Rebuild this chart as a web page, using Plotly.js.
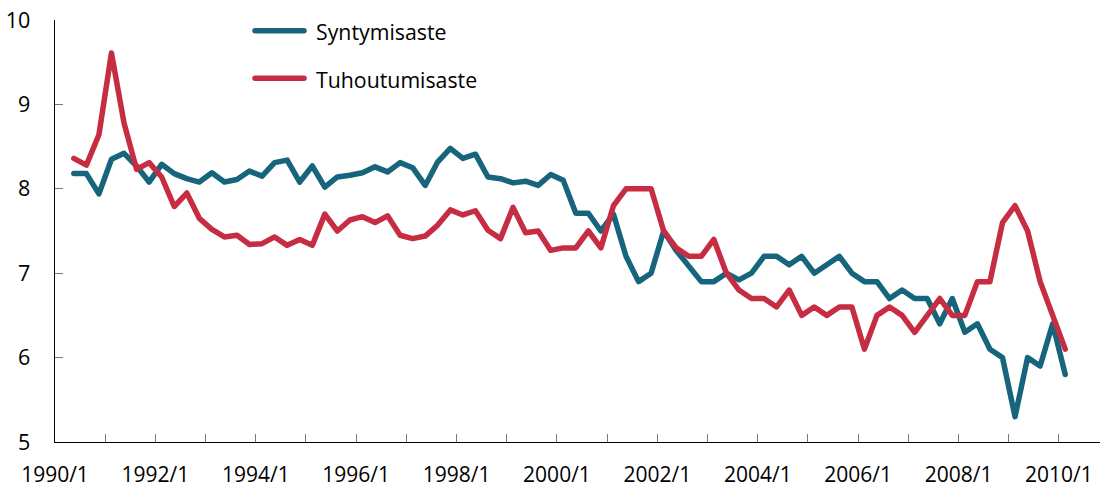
<!DOCTYPE html>
<html><head><meta charset="utf-8">
<script src="https://cdn.plot.ly/plotly-3.0.1.min.js"></script>
<style>
html,body{margin:0;padding:0;background:#fff;}
#chart{width:1100px;height:489px;}
.js-line{stroke-linejoin:round !important;stroke-linecap:round !important;}
.shapelayer path{stroke-linecap:round !important;}
</style></head><body><div id="chart"></div>
<script>
// Quarters 1990/2 .. 2010/1
const periods = [
 "1990/2","1990/3","1990/4",
 "1991/1","1991/2","1991/3","1991/4",
 "1992/1","1992/2","1992/3","1992/4",
 "1993/1","1993/2","1993/3","1993/4",
 "1994/1","1994/2","1994/3","1994/4",
 "1995/1","1995/2","1995/3","1995/4",
 "1996/1","1996/2","1996/3","1996/4",
 "1997/1","1997/2","1997/3","1997/4",
 "1998/1","1998/2","1998/3","1998/4",
 "1999/1","1999/2","1999/3","1999/4",
 "2000/1","2000/2","2000/3","2000/4",
 "2001/1","2001/2","2001/3","2001/4",
 "2002/1","2002/2","2002/3","2002/4",
 "2003/1","2003/2","2003/3","2003/4",
 "2004/1","2004/2","2004/3","2004/4",
 "2005/1","2005/2","2005/3","2005/4",
 "2006/1","2006/2","2006/3","2006/4",
 "2007/1","2007/2","2007/3","2007/4",
 "2008/1","2008/2","2008/3","2008/4",
 "2009/1","2009/2","2009/3","2009/4",
 "2010/1"
];

const syntymisaste = [
 8.18,8.18,7.94,
 8.35,8.42,8.27,8.08,
 8.29,8.18,8.12,8.08,
 8.19,8.08,8.11,8.21,
 8.15,8.31,8.34,8.08,
 8.27,8.02,8.14,8.16,
 8.19,8.26,8.20,8.31,
 8.25,8.04,8.32,8.48,
 8.36,8.41,8.14,8.12,
 8.07,8.09,8.04,8.17,
 8.10,7.71,7.71,7.50,
 7.70,7.20,6.90,7.00,
 7.50,7.27,7.08,6.90,
 6.90,7.00,6.92,7.00,
 7.20,7.20,7.10,7.20,
 7.00,7.10,7.20,7.00,
 6.90,6.90,6.70,6.80,
 6.70,6.70,6.40,6.70,
 6.30,6.40,6.10,6.00,
 5.30,6.00,5.90,6.40,
 5.80
];

const tuhoutumisaste = [
 8.36,8.28,8.64,
 9.61,8.78,8.23,8.31,
 8.14,7.79,7.95,7.65,
 7.52,7.43,7.45,7.34,
 7.35,7.43,7.33,7.40,
 7.33,7.70,7.50,7.63,
 7.67,7.60,7.68,7.45,
 7.41,7.44,7.57,7.75,
 7.69,7.74,7.51,7.41,
 7.78,7.48,7.50,7.27,
 7.30,7.30,7.50,7.30,
 7.80,8.00,8.00,8.00,
 7.50,7.30,7.20,7.20,
 7.40,7.00,6.80,6.70,
 6.70,6.60,6.80,6.50,
 6.60,6.50,6.60,6.60,
 6.10,6.50,6.60,6.50,
 6.30,6.50,6.70,6.50,
 6.50,6.90,6.90,7.60,
 7.80,7.50,6.90,6.50,
 6.10
];

const years = [1990,1991,1992,1993,1994,1995,1996,1997,1998,1999,2000,
               2001,2002,2003,2004,2005,2006,2007,2008,2009,2010];
const tickLabels = ["1990/1","1992/1","1994/1","1996/1","1998/1","2000/1",
                    "2002/1","2004/1","2006/1","2008/1","2010/1"];
const yTicks = [5,6,7,8,9,10];
const seriesNames = ["Syntymisaste","Tuhoutumisaste"];
const colors = ["#17657c","#c62d43"];

// quarter index: 1990/1 -> 0
function qIndex(p){ const [y,q] = p.split("/").map(Number); return (y-1990)*4 + (q-1); }
const xs = periods.map(qIndex);

// year boundary ticks, labels every second year
const tickvals = years.map(y => (y-1990)*4 - 0.5);
const ticktext = years.map(y => { const l = y + "/1"; return tickLabels.includes(l) ? l : ""; });

const traces = [syntymisaste, tuhoutumisaste].map((vals,i) => ({
  type:"scatter", mode:"lines", x: xs, y: vals, name: seriesNames[i],
  line:{color: colors[i], width:5.5}, hoverinfo:"skip", cliponaxis:false
}));

// legend (drawn manually to match the reference's long line samples)
const W = 1045, H = 422, L = 55, T = 20;
const px = v => (v - L)/W, py = v => (T + H - v)/H;
const legendY = [30.7, 78.3];
const shapes = legendY.map((yy,i) => ({
  type:"line", xref:"paper", yref:"paper",
  x0: px(255), x1: px(304), y0: py(yy), y1: py(yy),
  line:{color: colors[i], width:5.5}
}));
const annotations = legendY.map((yy,i) => ({
  xref:"paper", yref:"paper", x: px(314), y: py(yy+1), xanchor:"left", yanchor:"middle",
  text: seriesNames[i], showarrow:false, font:{size:21.3, color:"#000"}
}));

const layout = {
  width:1100, height:489,
  margin:{l:55, r:0, t:20, b:47, pad:0},
  paper_bgcolor:"#fff", plot_bgcolor:"#fff",
  showlegend:false,
  font:{family:"'Open Sans', sans-serif", size:21.5, color:"#000"},
  xaxis:{
    type:"linear", range:[-0.5, 82.77], tickmode:"array", tickvals, ticktext,
    ticks:"inside", ticklen:8, tickwidth:1, tickcolor:"#777",
    showline:true, linecolor:"#000", linewidth:1.3,
    showgrid:false, zeroline:false, ticklabelshift:6.3, ticklabelstandoff:13,
    tickfont:{size:21}, fixedrange:true
  },
  yaxis:{
    range:[5,10], tickmode:"array", tickvals:yTicks,
    ticks:"inside", ticklen:8, tickwidth:1, tickcolor:"#777",
    showline:true, linecolor:"#000", linewidth:1.3,
    showgrid:false, zeroline:false, ticklabelstandoff:19, fixedrange:true
  },
  shapes, annotations
};

Plotly.newPlot("chart", traces, layout, {displayModeBar:false, staticPlot:true});
</script></body></html>
